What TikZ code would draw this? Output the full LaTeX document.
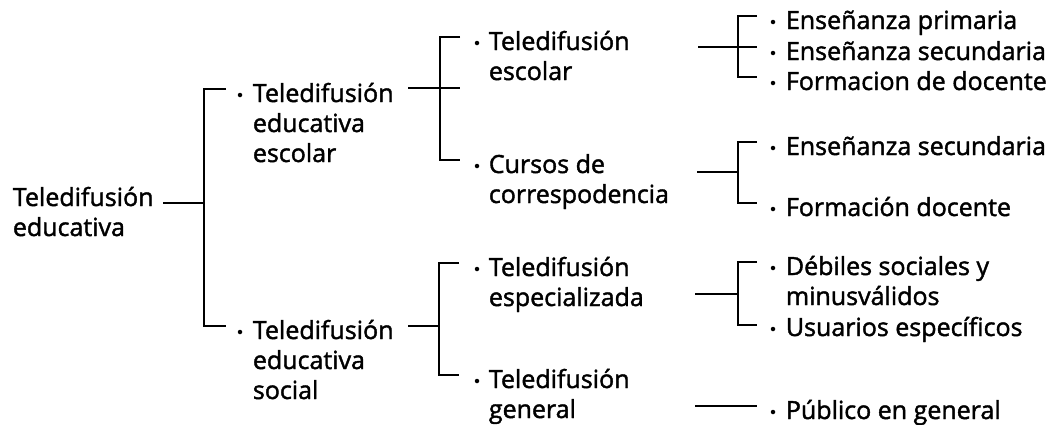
\documentclass[tikz,border=0pt]{standalone}
\usepackage{fontspec}
\setmainfont{Open Sans}[FakeBold=1.6]
\newcommand\mystack[1]{\vtop{\baselineskip=30pt\lineskiplimit=-100pt\halign{##\hfil\cr #1\crcr}}}
\begin{document}
\begin{tikzpicture}[x=1pt,y=-1pt,line width=1.8pt,line join=miter,
  lbl/.style={anchor=base west,inner sep=0pt,font=\fontsize{25}{30}\selectfont},
  bul/.style={circle,fill=black,inner sep=0pt,minimum size=4.5pt}]
\useasboundingbox (0,0) rectangle (1051,424);

% ---------- root ----------
\node[lbl] (root) at (12,206) {\mystack{Teledifusión\cr educativa}};
\coordinate (r0) at (163,203);
\coordinate (j0) at (204,203);
\coordinate (j0t) at (204,89);
\coordinate (j0b) at (204,326);
\coordinate (a0t) at (226,89);
\coordinate (a0b) at (226,326);
\draw (r0) -- (j0);
\draw (a0t) -- (j0t) -- (j0b) -- (a0b);

% ---------- level 1 ----------
\node[bul] (d11) at (240,95) {};
\node[lbl] (n11) at (252,102) {\mystack{Teledifusión\cr educativa\cr escolar}};
\node[bul] (d12) at (240,332) {};
\node[lbl] (n12) at (252,339) {\mystack{Teledifusión\cr educativa\cr social}};

% bracket from n11
\coordinate (c1s) at (408,88);
\coordinate (c1e) at (460,88);
\coordinate (j1t) at (440,37);
\coordinate (j1b) at (440,160);
\coordinate (a1t) at (460,37);
\coordinate (a1b) at (460,160);
\draw (c1s) -- (c1e);
\draw (a1t) -- (j1t) -- (j1b) -- (a1b);

% bracket from n12
\coordinate (c2s) at (408,326);
\coordinate (c2j) at (439,326);
\coordinate (j2t) at (439,263);
\coordinate (j2b) at (439,375);
\coordinate (a2t) at (459,263);
\coordinate (a2b) at (459,375);
\draw (c2s) -- (c2j);
\draw (a2t) -- (j2t) -- (j2b) -- (a2b);

% ---------- level 2 ----------
\node[bul] (d21) at (477,43) {};
\node[lbl] (n21) at (488,50) {\mystack{Teledifusión\cr escolar}};
\node[bul] (d22) at (477,166) {};
\node[lbl] (n22) at (488,173) {\mystack{Cursos de\cr correspodencia}};
\node[bul] (d23) at (477,269) {};
\node[lbl] (n23) at (488,276) {\mystack{Teledifusión\cr especializada}};
\node[bul] (d24) at (477,381) {};
\node[lbl] (n24) at (488,388) {\mystack{Teledifusión\cr general}};

% bracket from n21
\coordinate (c3s) at (698,47);
\coordinate (c3e) at (757,47);
\coordinate (j3t) at (738,16);
\coordinate (j3b) at (738,77);
\coordinate (a3t) at (757,16);
\coordinate (a3b) at (757,77);
\draw (c3s) -- (c3e);
\draw (a3t) -- (j3t) -- (j3b) -- (a3b);

% bracket from n22
\coordinate (c4s) at (697,172);
\coordinate (c4j) at (738,172);
\coordinate (j4t) at (738,142);
\coordinate (j4b) at (738,203);
\coordinate (a4t) at (757,142);
\coordinate (a4b) at (757,203);
\draw (c4s) -- (c4j);
\draw (a4t) -- (j4t) -- (j4b) -- (a4b);

% bracket from n23
\coordinate (c5s) at (695,294);
\coordinate (c5j) at (738,294);
\coordinate (j5t) at (738,262);
\coordinate (j5b) at (738,325);
\coordinate (a5t) at (757,262);
\coordinate (a5b) at (757,325);
\draw (c5s) -- (c5j);
\draw (a5t) -- (j5t) -- (j5b) -- (a5b);

% line from n24
\coordinate (c6s) at (695,406);
\coordinate (c6e) at (757,406);
\draw (c6s) -- (c6e);

% ---------- level 3 ----------
\node[bul] (d31) at (773,22) {};
\node[lbl] (n31) at (785,29) {Enseñanza primaria};
\node[bul] (d32) at (773,53) {};
\node[lbl] (n32) at (785,60) {Enseñanza secundaria};
\node[bul] (d33) at (773,83) {};
\node[lbl] (n33) at (785,90) {Formacion de docente};
\node[bul] (d34) at (773,148) {};
\node[lbl] (n34) at (785,155) {Enseñanza secundaria};
\node[bul] (d35) at (773,209) {};
\node[lbl] (n35) at (785,216) {Formación docente};
\node[bul] (d36) at (773,268) {};
\node[lbl] (n36) at (785,275) {\mystack{Débiles sociales y\cr minusválidos}};
\node[bul] (d37) at (773,329) {};
\node[lbl] (n37) at (785,336) {Usuarios específicos};
\node[bul] (d38) at (773,412) {};
\node[lbl] (n38) at (785,419) {Público en general};
\end{tikzpicture}
\end{document}
